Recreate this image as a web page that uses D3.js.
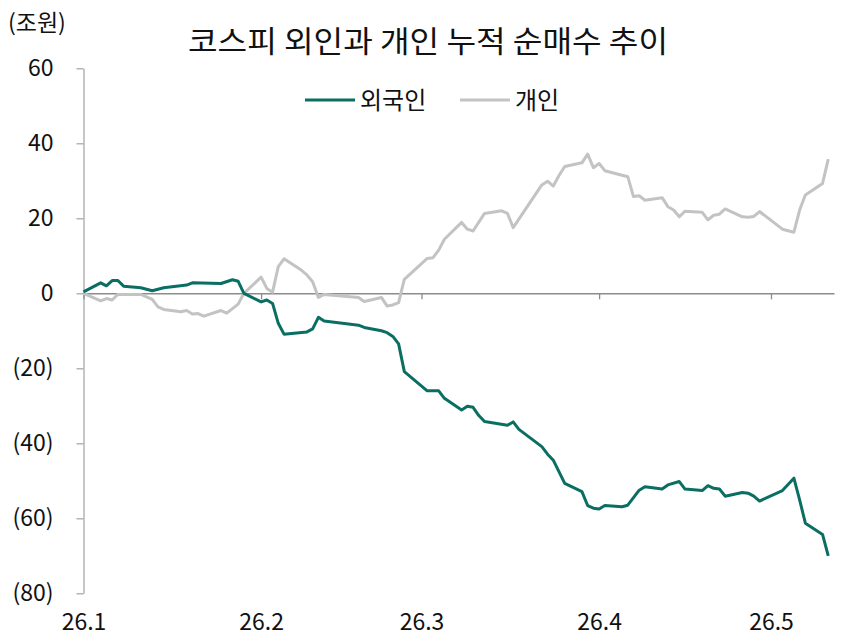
<!DOCTYPE html>
<html><head><meta charset="utf-8">
<script src="https://cdn.jsdelivr.net/npm/d3@7"></script>
<style>
body{margin:0;background:#fff}
text{font-family:"Noto Sans CJK KR","Noto Sans",sans-serif;fill:#111}
</style>
</head><body>
<svg id="c" width="845" height="637"></svg>
<script>
// ---- DATA ----
const foreignDates = ["2026-01-02","2026-01-05","2026-01-06","2026-01-07","2026-01-08","2026-01-09","2026-01-12","2026-01-14","2026-01-16","2026-01-20","2026-01-21","2026-01-26","2026-01-28","2026-01-29","2026-01-30","2026-02-02","2026-02-03","2026-02-04","2026-02-05","2026-02-06","2026-02-10","2026-02-11","2026-02-12","2026-02-13","2026-02-19","2026-02-20","2026-02-23","2026-02-24","2026-02-25","2026-02-26","2026-02-27","2026-03-03","2026-03-05","2026-03-06","2026-03-09","2026-03-10","2026-03-11","2026-03-12","2026-03-13","2026-03-17","2026-03-18","2026-03-19","2026-03-23","2026-03-24","2026-03-25","2026-03-27","2026-03-30","2026-03-31","2026-04-01","2026-04-02","2026-04-03","2026-04-06","2026-04-07","2026-04-09","2026-04-10","2026-04-13","2026-04-14","2026-04-16","2026-04-17","2026-04-20","2026-04-21","2026-04-22","2026-04-23","2026-04-24","2026-04-27","2026-04-28","2026-04-29","2026-04-30","2026-05-04","2026-05-06","2026-05-07","2026-05-08","2026-05-11","2026-05-12"];
const foreignValues = [0.4,2.8,2.0,3.4,3.4,1.9,1.5,0.7,1.5,2.2,2.8,2.6,3.6,3.2,0.0,-2.3,-1.8,-2.7,-8.0,-10.9,-10.3,-9.5,-6.4,-7.4,-8.5,-9.1,-10.0,-10.5,-11.5,-13.5,-20.9,-26.0,-26.0,-28.0,-31.1,-30.1,-30.4,-32.6,-34.2,-35.2,-34.3,-36.3,-40.9,-42.9,-44.5,-50.7,-52.9,-56.6,-57.3,-57.5,-56.6,-56.9,-56.5,-52.5,-51.6,-52.2,-51.1,-50.2,-52.2,-52.6,-51.3,-52.0,-52.2,-54.1,-53.1,-53.3,-54.1,-55.4,-52.6,-49.3,-55.1,-61.3,-64.3,-70.0];

const individualDates = ["2026-01-02","2026-01-05","2026-01-06","2026-01-07","2026-01-08","2026-01-12","2026-01-14","2026-01-15","2026-01-16","2026-01-19","2026-01-20","2026-01-21","2026-01-22","2026-01-23","2026-01-26","2026-01-27","2026-01-29","2026-01-30","2026-02-02","2026-02-03","2026-02-04","2026-02-05","2026-02-06","2026-02-09","2026-02-10","2026-02-11","2026-02-12","2026-02-13","2026-02-19","2026-02-20","2026-02-23","2026-02-24","2026-02-25","2026-02-26","2026-02-27","2026-03-03","2026-03-04","2026-03-05","2026-03-06","2026-03-09","2026-03-10","2026-03-11","2026-03-13","2026-03-16","2026-03-17","2026-03-18","2026-03-23","2026-03-24","2026-03-25","2026-03-26","2026-03-27","2026-03-30","2026-03-31","2026-04-01","2026-04-02","2026-04-03","2026-04-07","2026-04-08","2026-04-09","2026-04-10","2026-04-13","2026-04-14","2026-04-15","2026-04-16","2026-04-17","2026-04-20","2026-04-21","2026-04-22","2026-04-23","2026-04-24","2026-04-27","2026-04-28","2026-04-29","2026-04-30","2026-05-04","2026-05-06","2026-05-07","2026-05-08","2026-05-11","2026-05-12"];
const individualValues = [0.0,-2.0,-1.4,-1.8,-0.3,-0.3,-1.6,-3.6,-4.3,-4.9,-4.6,-5.5,-5.4,-6.1,-4.6,-5.3,-2.9,0.0,4.3,1.3,0.3,7.1,9.2,6.2,4.9,3.1,-1.1,-0.3,-1.1,-2.2,-1.1,-3.4,-3.1,-2.5,3.7,9.3,9.5,11.5,14.4,18.9,17.1,16.6,21.3,22.0,21.3,17.5,28.9,29.9,28.6,31.4,33.8,34.8,37.1,33.5,34.6,32.7,31.1,25.8,26.0,24.8,25.5,23.1,22.2,20.4,21.9,21.6,19.6,20.8,21.1,22.5,20.4,20.3,20.5,21.8,17.1,16.3,22.2,26.2,29.3,35.8];

const xTickDates = ["2026-01-02","2026-02-02","2026-03-02","2026-04-02","2026-05-02"];
const xTickLabels = ["26.1","26.2","26.3","26.4","26.5"];
const yTicks = [60,40,20,0,-20,-40,-60,-80];
const axisStart = "2026-01-02", axisEnd = "2026-05-13";
const seriesNames = ["외국인","개인"];
const title = "코스피 외인과 개인 누적 순매수 추이";
const unit = "(조원)";

// ---- CHART ----
const parse = d3.utcParse("%Y-%m-%d");
const svg = d3.select("#c");
const x = d3.scaleUtc().domain([parse(axisStart), parse(axisEnd)]).range([83.5, 834]);
const y = d3.scaleLinear().domain([-80, 60]).range([593.3, 68.3]);
const green = "#0b6e62", gray = "#c3c3c3";

// Y axis
const yAxis = d3.axisLeft(y).tickValues(yTicks).tickSize(7).tickSizeOuter(0).tickPadding(23)
  .tickFormat(v => v < 0 ? `(${-v})` : `${v}`);
const gy = svg.append("g").attr("transform", "translate(83.5,0)").call(yAxis);
gy.select(".domain").attr("stroke", "#a8a8a8").attr("stroke-width", 1.3);
gy.selectAll(".tick line").attr("stroke", "#a8a8a8").attr("stroke-width", 1.3);
gy.selectAll(".tick text").attr("font-size", 23).attr("fill", "#111")
  .attr("font-family", '"Noto Sans CJK KR", "Noto Sans", sans-serif');

// Zero line with month ticks
const xAxis = d3.axisBottom(x).tickValues(xTickDates.map(parse)).tickSize(6).tickSizeOuter(0).tickFormat("");
const gx = svg.append("g").attr("transform", `translate(0,${y(0)})`).call(xAxis);
gx.select(".domain").attr("stroke", "#8c8c8c").attr("stroke-width", 1.5);
gx.selectAll(".tick line").attr("stroke", "#8c8c8c").attr("stroke-width", 1.3);

// Bottom labels
const xLab = d3.axisBottom(x).tickValues(xTickDates.map(parse)).tickSize(0).tickPadding(9)
  .tickFormat((d, i) => xTickLabels[i]);
const gl = svg.append("g").attr("transform", "translate(0,605)").call(xLab);
gl.select(".domain").remove();
gl.selectAll(".tick text").attr("font-size", 23).attr("fill", "#111")
  .attr("font-family", '"Noto Sans CJK KR", "Noto Sans", sans-serif');

// Lines
const line = d3.line().x(d => x(d.date)).y(d => y(d.v));
const indiv = individualDates.map((d, i) => ({date: parse(d), v: individualValues[i]}));
const foreign = foreignDates.map((d, i) => ({date: parse(d), v: foreignValues[i]}));
svg.append("path").datum(indiv).attr("d", line).attr("fill", "none")
  .attr("stroke", gray).attr("stroke-width", 3).attr("stroke-linejoin", "round");
svg.append("path").datum(foreign).attr("d", line).attr("fill", "none")
  .attr("stroke", green).attr("stroke-width", 3).attr("stroke-linejoin", "round");

// Title & unit
svg.append("text").attr("x", 428).attr("y", 52).attr("text-anchor", "middle")
  .attr("font-size", 30).attr("textLength", 480).attr("lengthAdjust", "spacingAndGlyphs").text(title);
svg.append("text").attr("x", 8).attr("y", 31).attr("font-size", 23).text(unit);

// Legend
const legend = [{name: seriesNames[0], color: green, x0: 305}, {name: seriesNames[1], color: gray, x0: 460}];
const lg = svg.append("g");
legend.forEach(l => {
  lg.append("line").attr("x1", l.x0).attr("x2", l.x0 + 50).attr("y1", 100).attr("y2", 100)
    .attr("stroke", l.color).attr("stroke-width", 3);
  lg.append("text").attr("x", l.x0 + 55).attr("y", 109).attr("font-size", 24).text(l.name);
});
</script>
</body></html>
